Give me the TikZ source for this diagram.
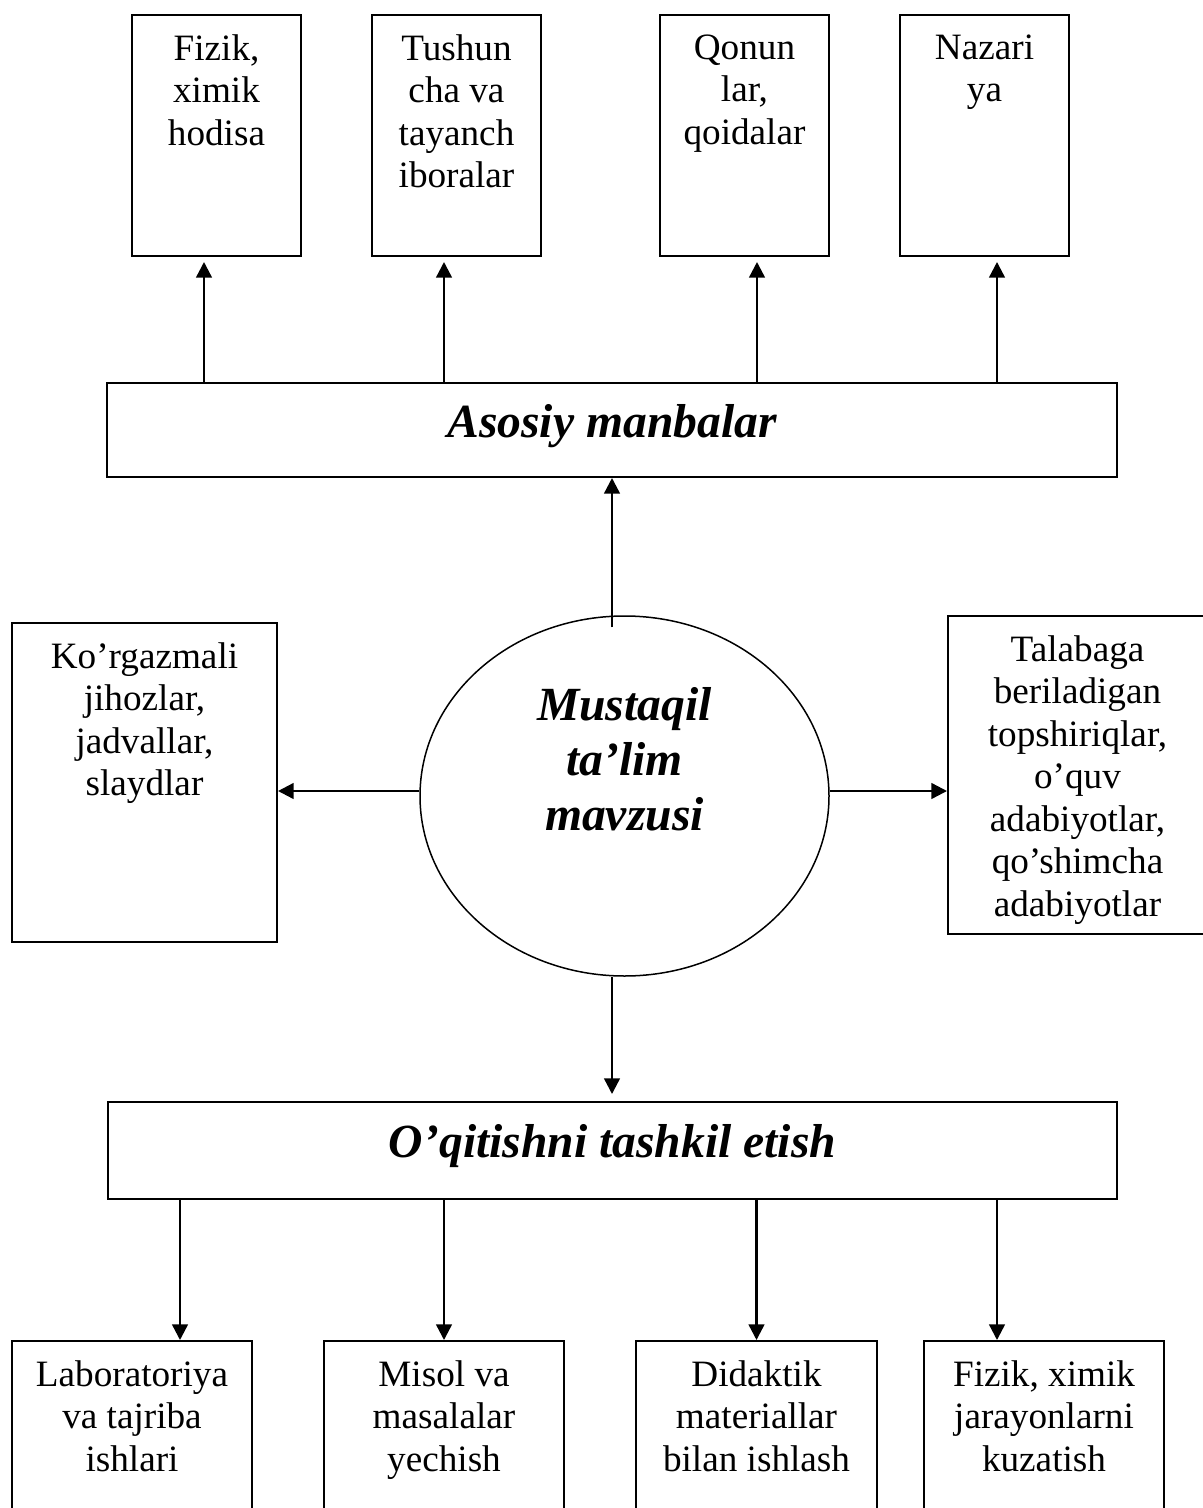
\documentclass[tikz,border=0pt]{standalone}
\usepackage{fontspec}
\setmainfont{Liberation Serif}
\usetikzlibrary{positioning, arrows.meta, shapes.geometric}
\newcommand{\txtfont}{\fontsize{18.6pt}{21.25pt}\selectfont}
\newcommand{\headfont}{\fontsize{23.8pt}{27.5pt}\selectfont\bfseries\itshape}

\begin{document}
\begin{tikzpicture}[
  x=0.5pt, y=-0.5pt,
  box/.style={rectangle, draw, line width=1pt, inner sep=0pt},
  topbox/.style={box, minimum width=84.5pt, minimum height=120.5pt},
  basebox/.style={box, minimum width=120pt, minimum height=90pt},
  wide/.style={box, font=\headfont, minimum height=47pt, text height=16.6pt, text depth=9.4pt},
  txt/.style={align=center, inner sep=0pt, font=\txtfont},
  arrow/.style={-{Triangle[length=7.8pt, width=7.8pt]}, line width=1.2pt}
]
\path[fill=white] (0,0) rectangle (1203,1508);
\useasboundingbox (0,0) rectangle (1203,1508);

% top row
\node[topbox] (f1) at (216.5,135.5) {};
\node[txt, below=10pt of f1.north] (f1t) {Fizik,\\ximik\\hodisa};
\node[topbox] (f2) at (456.5,135.5) {};
\node[txt, below=10pt of f2.north] (f2t) {Tushun\\cha va\\tayanch\\iboralar};
\node[topbox] (f3) at (744.5,135.5) {};
\node[txt, below=10pt of f3.north] (f3t) {Qonun\\lar,\\qoidalar};
\node[topbox] (f4) at (984.5,135.5) {};
\node[txt, below=10pt of f4.north] (f4t) {Nazari\\ya};

\node[wide, minimum width=505pt] (asosiy) at (612,430) {Asosiy manbalar};

% centre
\node[ellipse, draw, line width=0.75pt, inner sep=0pt,
      minimum width=204.5pt, minimum height=180pt] (ell) at (624.5,796) {};
\node[align=center, inner sep=0pt, font=\headfont, yshift=18.5pt] (ellt) at (ell.center)
  {Mustaqil\\ta’lim\\mavzusi};

\node[box, minimum width=132.5pt, minimum height=159.5pt] (kor) at (144.5,782.5) {};
\node[txt, below=10pt of kor.north] (kort) {Ko’rgazmali\\jihozlar,\\jadvallar,\\slaydlar};
\node[box, minimum width=129.5pt, minimum height=159pt] (tal) at (1077.5,775) {};
\node[txt, below=10pt of tal.north] (talt)
  {Talabaga\\beriladigan\\topshiriqlar,\\o’quv\\adabiyotlar,\\qo’shimcha\\adabiyotlar};

\node[wide, minimum width=504.5pt, minimum height=48.5pt] (oqit) at (612.5,1150.5) {O’qitishni tashkil etish};

% bottom row
\node[basebox] (b1) at (132,1431) {};
\node[txt, below=10pt of b1.north] (b1t) {Laboratoriya\\va tajriba\\ishlari};
\node[basebox] (b2) at (444,1431) {};
\node[txt, below=10pt of b2.north] (b2t) {Misol va\\masalalar\\yechish};
\node[basebox, minimum width=120.5pt] (b3) at (756.5,1431) {};
\node[txt, below=10pt of b3.north] (b3t) {Didaktik\\materiallar\\bilan ishlash};
\node[basebox] (b4) at (1044,1431) {};
\node[txt, below=10pt of b4.north] (b4t) {Fizik, ximik\\jarayonlarni\\kuzatish};

% connectors
\foreach \n/\dx in {f1/-6.25pt, f2/-6.25pt, f3/6.25pt, f4/6.25pt}
  \draw[arrow, shorten >=2.5pt] ([xshift=\dx]\n.south |- asosiy.north) -- ([xshift=\dx]\n.south);
\draw[arrow] ([xshift=-6.25pt, yshift=-6pt]ell.north) -- ([xshift=-6.25pt]ell.north |- asosiy.south);
\draw[arrow] ([yshift=2.5pt]ell.west) -- ([yshift=2.5pt]ell.west -| kor.east);
\draw[arrow] ([yshift=2.5pt]ell.east) -- ([yshift=2.5pt]ell.east -| tal.west);
\draw[arrow, shorten >=3.5pt] ([xshift=-6.25pt]ell.south) -- ([xshift=-6.25pt]ell.south |- oqit.north);
\foreach \n/\dx in {b1/24pt, b2/0pt, b3/0pt, b4/-23.5pt}
  \draw[arrow] ([xshift=\dx]\n.north |- oqit.south) -- ([xshift=\dx]\n.north);
\end{tikzpicture}
\end{document}
